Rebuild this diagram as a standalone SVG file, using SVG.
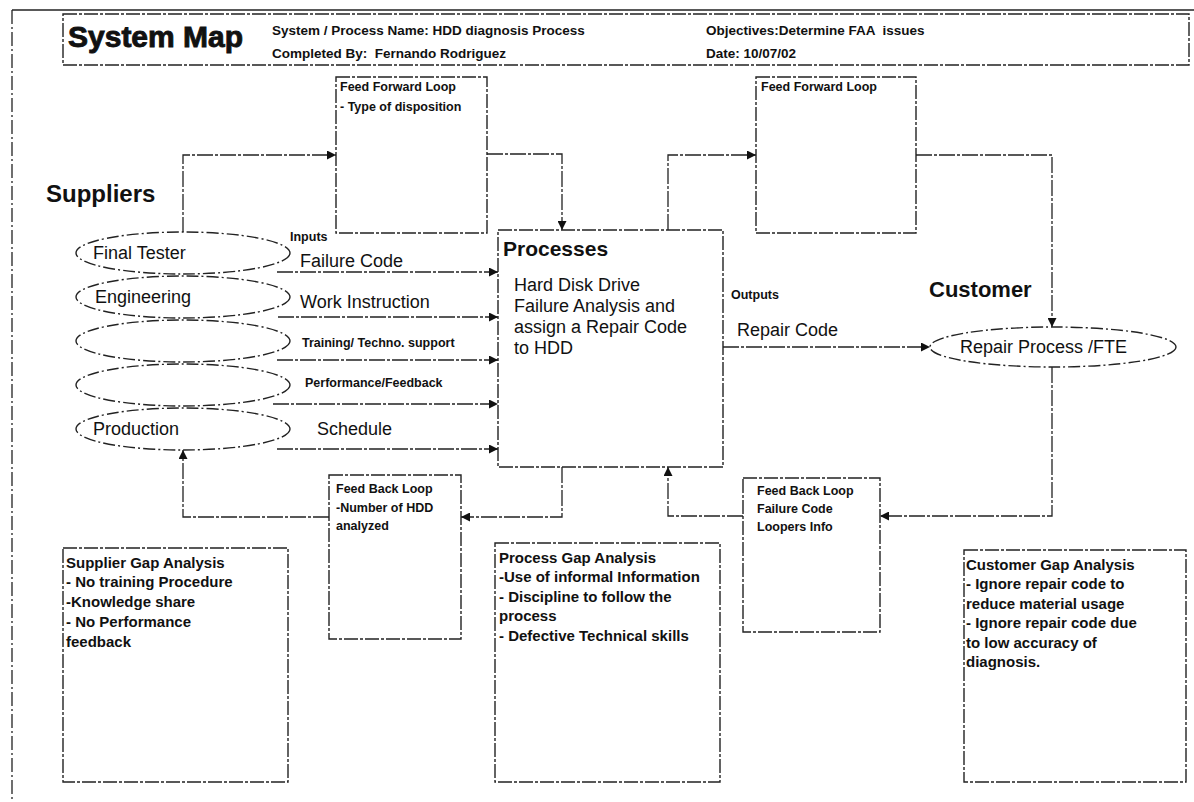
<svg xmlns="http://www.w3.org/2000/svg" width="1194" height="802" viewBox="0 0 1194 802">
  <defs>
    <marker id="arrow" markerUnits="userSpaceOnUse" markerWidth="10" markerHeight="9" refX="9" refY="4.5" orient="auto">
      <path d="M0,0 L9,4.5 L0,9 z" fill="#111"/>
    </marker>
    <style>
      .frame { fill: none; stroke: #222; stroke-width: 1.3; }
      .box { fill: #fff; stroke: #222; stroke-width: 1.4; stroke-dasharray: 14 2 3 2; }
      .oval { fill: #fff; stroke: #222; stroke-width: 1.4; stroke-dasharray: 12 3 2 3; }
      .link { fill: none; stroke: #222; stroke-width: 1.3; stroke-dasharray: 16 2 3 2; marker-end: url(#arrow); }
      text { font-family: "Liberation Sans", Arial, sans-serif; fill: #111; }
      .title { font-size: 30px; font-weight: bold; stroke: #111; stroke-width: 0.9; }
      .head { font-size: 13.5px; font-weight: bold; }
      .big { font-size: 24px; font-weight: bold; }
      .lbl { font-size: 18px; }
      .small { font-size: 12.5px; font-weight: bold; }
      .gap { font-size: 15px; font-weight: bold; }
    </style>
  </defs>

  <!-- page frame -->
  <line class="frame" x1="12" y1="10" x2="1194" y2="10" stroke-width="2"/>
  <line class="frame" x1="12" y1="10" x2="12" y2="802" stroke-dasharray="14 3 2 3"/>

  <!-- header -->
  <g id="header">
    <rect class="box" x="63" y="14" width="1126" height="51"/>
    <text class="title" x="68" y="47">System Map</text>
    <text class="head" x="272" y="35">System / Process Name: HDD diagnosis Process</text>
    <text class="head" x="272" y="58" xml:space="preserve">Completed By:  Fernando Rodriguez</text>
    <text class="head" x="706" y="35" xml:space="preserve">Objectives:Determine FAA  issues</text>
    <text class="head" x="706" y="58">Date: 10/07/02</text>
  </g>

  <!-- connectors -->
  <g id="connectors">
    <path class="link" d="M183,233 V155 H336"/>
    <path class="link" d="M487,154 H562 V230"/>
    <path class="link" d="M668,230 V155 H756"/>
    <path class="link" d="M916,155 H1052 V327"/>
    <path class="link" d="M723,347 H930"/>
    <path class="link" d="M1052,367 V516 H880"/>
    <path class="link" d="M743,516 H668 V467"/>
    <path class="link" d="M562,467 V517 H461"/>
    <path class="link" d="M329,517 H183 V450"/>
    <path class="link" d="M277,272 H498"/>
    <path class="link" d="M278,317 H498"/>
    <path class="link" d="M277,360 H498"/>
    <path class="link" d="M273,404 H498"/>
    <path class="link" d="M277,449 H498"/>
  </g>

  <text class="big" x="46" y="202">Suppliers</text>

  <g id="supplier-final-tester">
    <ellipse class="oval" cx="183" cy="253" rx="107" ry="21"/>
    <text class="lbl" x="93" y="259">Final Tester</text>
  </g>
  <g id="supplier-engineering">
    <ellipse class="oval" cx="183" cy="297" rx="107" ry="21"/>
    <text class="lbl" x="95" y="303">Engineering</text>
  </g>
  <g id="supplier-blank-1">
    <ellipse class="oval" cx="183" cy="341" rx="107" ry="21"/>
  </g>
  <g id="supplier-blank-2">
    <ellipse class="oval" cx="183" cy="385" rx="107" ry="21"/>
  </g>
  <g id="supplier-production">
    <ellipse class="oval" cx="183" cy="429" rx="107" ry="21"/>
    <text class="lbl" x="93" y="435">Production</text>
  </g>

  <g id="inputs">
    <text class="small" x="290" y="241">Inputs</text>
    <text class="lbl" x="300" y="267">Failure Code</text>
    <text class="lbl" x="300" y="308">Work Instruction</text>
    <text class="small" x="302" y="347">Training/ Techno. support</text>
    <text class="small" x="305" y="387">Performance/Feedback</text>
    <text class="lbl" x="317" y="435">Schedule</text>
  </g>

  <g id="feed-forward-1">
    <rect class="box" x="336" y="77" width="151" height="156"/>
    <text class="small" x="340" y="91">Feed Forward Loop</text>
    <text class="small" x="340" y="111">- Type of disposition</text>
  </g>

  <g id="feed-forward-2">
    <rect class="box" x="756" y="77" width="160" height="156"/>
    <text class="small" x="761" y="91">Feed Forward Loop</text>
  </g>

  <g id="processes">
    <rect class="box" x="498" y="230" width="225" height="237"/>
    <text x="503" y="256" font-size="21" font-weight="bold">Processes</text>
    <text class="lbl" x="514" y="291">Hard Disk Drive</text>
    <text class="lbl" x="514" y="312">Failure Analysis and</text>
    <text class="lbl" x="514" y="333">assign a Repair Code</text>
    <text class="lbl" x="514" y="354">to HDD</text>
  </g>

  <g id="outputs">
    <text class="small" x="731" y="299">Outputs</text>
    <text class="lbl" x="737" y="336">Repair Code</text>
  </g>

  <g id="customer">
    <text x="929" y="297" font-size="22" font-weight="bold">Customer</text>
    <ellipse class="oval" cx="1053" cy="347" rx="123" ry="20"/>
    <text class="lbl" x="960" y="353">Repair Process /FTE</text>
  </g>

  <g id="feed-back-1">
    <rect class="box" x="329" y="475" width="132" height="164"/>
    <text class="small" x="336" y="493">Feed Back Loop</text>
    <text class="small" x="336" y="512">-Number of HDD</text>
    <text class="small" x="336" y="530">analyzed</text>
  </g>

  <g id="feed-back-2">
    <rect class="box" x="743" y="478" width="137" height="154"/>
    <text class="small" x="757" y="495">Feed Back Loop</text>
    <text class="small" x="757" y="513">Failure Code</text>
    <text class="small" x="757" y="531">Loopers Info</text>
  </g>

  <g id="supplier-gap">
    <rect class="box" x="63" y="548" width="225" height="234"/>
    <text class="gap" x="66" y="568">Supplier Gap Analysis</text>
    <text class="gap" x="66" y="587">- No training Procedure</text>
    <text class="gap" x="66" y="607">-Knowledge share</text>
    <text class="gap" x="66" y="627">- No Performance</text>
    <text class="gap" x="66" y="647">feedback</text>
  </g>

  <g id="process-gap">
    <rect class="box" x="495" y="543" width="225" height="239"/>
    <text class="gap" x="499" y="563">Process Gap Analysis</text>
    <text class="gap" x="499" y="582">-Use of informal Information</text>
    <text class="gap" x="499" y="602">- Discipline to follow the</text>
    <text class="gap" x="499" y="621">process</text>
    <text class="gap" x="499" y="641">- Defective Technical skills</text>
  </g>

  <g id="customer-gap">
    <rect class="box" x="964" y="550" width="222" height="232"/>
    <text class="gap" x="966" y="570">Customer Gap Analysis</text>
    <text class="gap" x="966" y="589">- Ignore repair code to</text>
    <text class="gap" x="966" y="609">reduce material usage</text>
    <text class="gap" x="966" y="628">- Ignore repair code due</text>
    <text class="gap" x="966" y="648">to low accuracy of</text>
    <text class="gap" x="966" y="667">diagnosis.</text>
  </g>
</svg>
